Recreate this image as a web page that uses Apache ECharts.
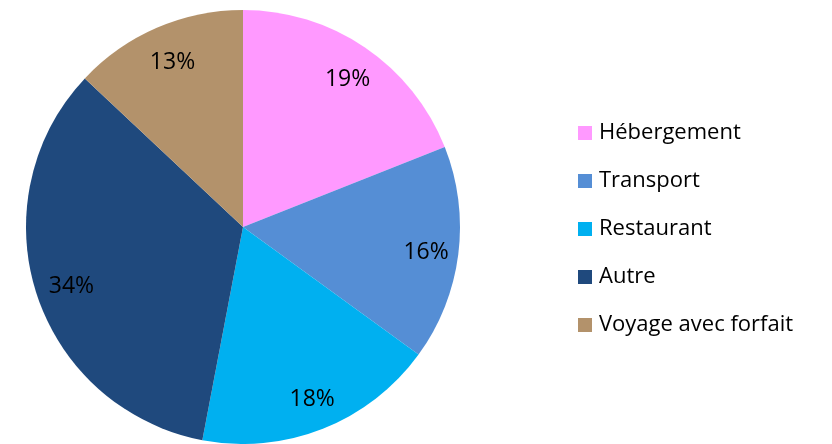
<!DOCTYPE html>
<html lang="fr">
<head>
  <meta charset="UTF-8">
  <title>Répartition des dépenses</title>
  <script src="https://cdn.jsdelivr.net/npm/echarts@6/dist/echarts.min.js"></script>
  <style>
    html, body { margin: 0; padding: 0; background: #fff; }
  </style>
</head>
<body>
<div id="main" style="width: 832px;height:444px;"></div>
<script>
  // données
  var categories = ['Hébergement', 'Transport', 'Restaurant', 'Autre', 'Voyage avec forfait'];
  var values = [19, 16, 18, 34, 13];
  var colors = ['#FF99FF', '#558ED5', '#00B0F0', '#1F497D', '#B3926B'];

  var pieData = categories.map(function (name, i) {
    return { name: name, value: values[i] };
  });

  var myChart = echarts.init(document.getElementById('main'));
  myChart.setOption({
    backgroundColor: '#fff',
    color: colors,
    legend: {
      orient: 'vertical',
      left: 573,
      top: 115,
      itemWidth: 14,
      itemHeight: 14,
      itemGap: 22,
      icon: 'rect',
      data: categories,
      textStyle: {
        fontFamily: 'Open Sans',
        fontSize: 22,
        color: '#000',
        lineHeight: 26,
        padding: [0, 0, 0, 2]
      }
    },
    series: [
      {
        // la tarte elle-même
        type: 'pie',
        center: [243, 227],
        radius: [0, 217],
        startAngle: 90,
        animation: false,
        label: { show: false },
        labelLine: { show: false },
        data: pieData
      },
      {
        // anneau invisible pour placer les pourcentages vers l'extérieur
        type: 'pie',
        center: [243, 227],
        radius: [142, 217],
        startAngle: 90,
        animation: false,
        silent: true,
        legendHoverLink: false,
        itemStyle: { color: 'rgba(0,0,0,0)' },
        label: {
          show: true,
          position: 'inside',
          formatter: '{c}%',
          fontFamily: 'Open Sans',
          fontSize: 23,
          color: '#000',
          offset: [2, 3]
        },
        labelLine: { show: false },
        data: pieData
      }
    ]
  });
</script>
</body>
</html>
